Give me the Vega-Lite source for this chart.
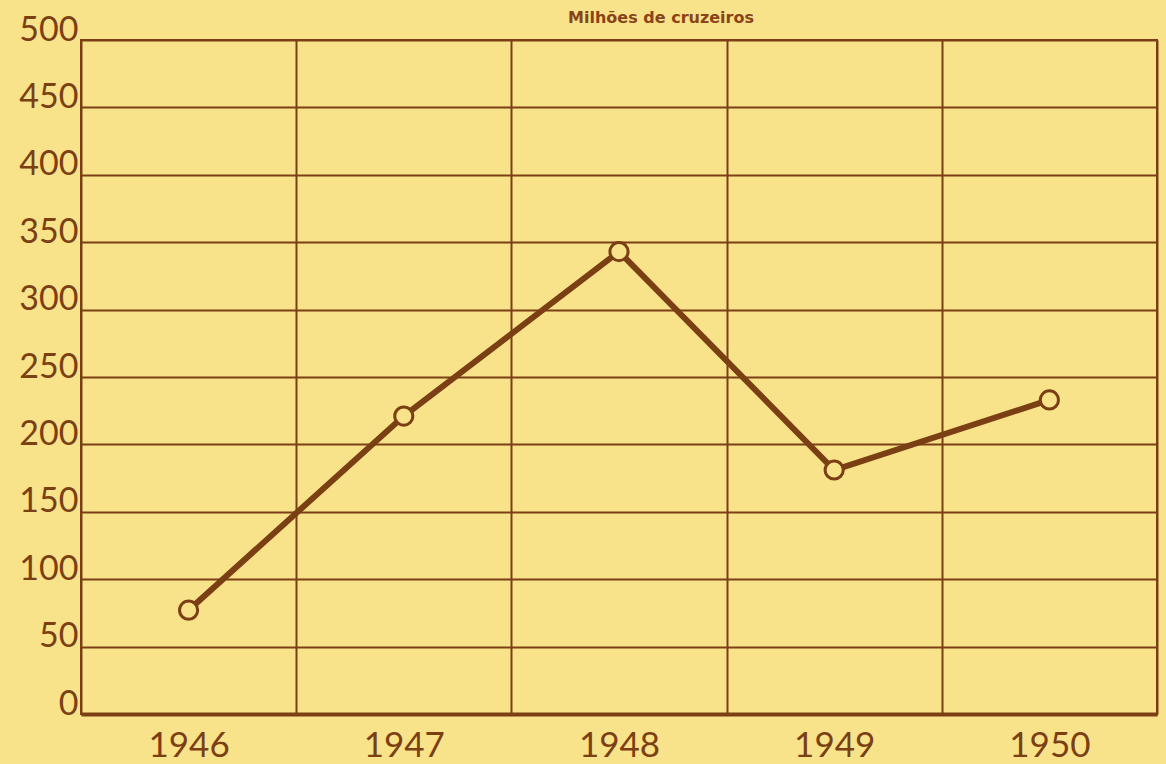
{
  "$schema": "https://vega.github.io/schema/vega-lite/v6.json",
  "width": 1076,
  "height": 674,
  "autosize": {"type": "none"},
  "padding": {"left": 81, "top": 40, "right": 9, "bottom": 50},
  "background": "#F8E28A",
  "title": {
    "text": "Milhões de cruzeiros",
    "fontSize": 16,
    "font": "DejaVu Sans",
    "fontWeight": "bold",
    "color": "#8A4418",
    "anchor": "middle",
    "frame": "group",
    "dx": 42,
    "offset": -13
  },
  "config": {
    "view": {"stroke": "#7B3F14", "strokeWidth": 2, "fill": "#F8E28A"},
    "axis": {"labelFont": "Lato", "labelColor": "#7B3F14", "gridColor": "#7B3F14", "gridOpacity": 1, "ticks": false}
  },
  "data": {
    "values": [
      {"ano": "1946", "valor": 77},
      {"ano": "1947", "valor": 221},
      {"ano": "1948", "valor": 343},
      {"ano": "1949", "valor": 181},
      {"ano": "1950", "valor": 233}
    ]
  },
  "encoding": {
    "x": {
      "field": "ano", "type": "ordinal", "title": null,
      "scale": {"paddingInner": 0, "paddingOuter": 0},
      "axis": {"labelAngle": 0, "labelFontSize": 35, "labelPadding": 14, "tickBand": "extent", "grid": true, "gridWidth": 2, "domainColor": "#7B3F14", "domainWidth": 4}
    },
    "y": {
      "field": "valor", "type": "quantitative", "title": null,
      "scale": {"domain": [0, 500], "nice": false},
      "axis": {"values": [0, 50, 100, 150, 200, 250, 300, 350, 400, 450, 500], "labelFontSize": 34, "labelBaseline": "alphabetic", "labelPadding": 3, "grid": true, "gridWidth": 2, "domain": false}
    }
  },
  "layer": [
    {"mark": {"type": "line", "color": "#7B3F14", "strokeWidth": 6}},
    {"mark": {"type": "point", "shape": "circle", "filled": true, "fill": "#F8E28A", "stroke": "#7B3F14", "strokeWidth": 3, "size": 330, "opacity": 1}}
  ]
}
